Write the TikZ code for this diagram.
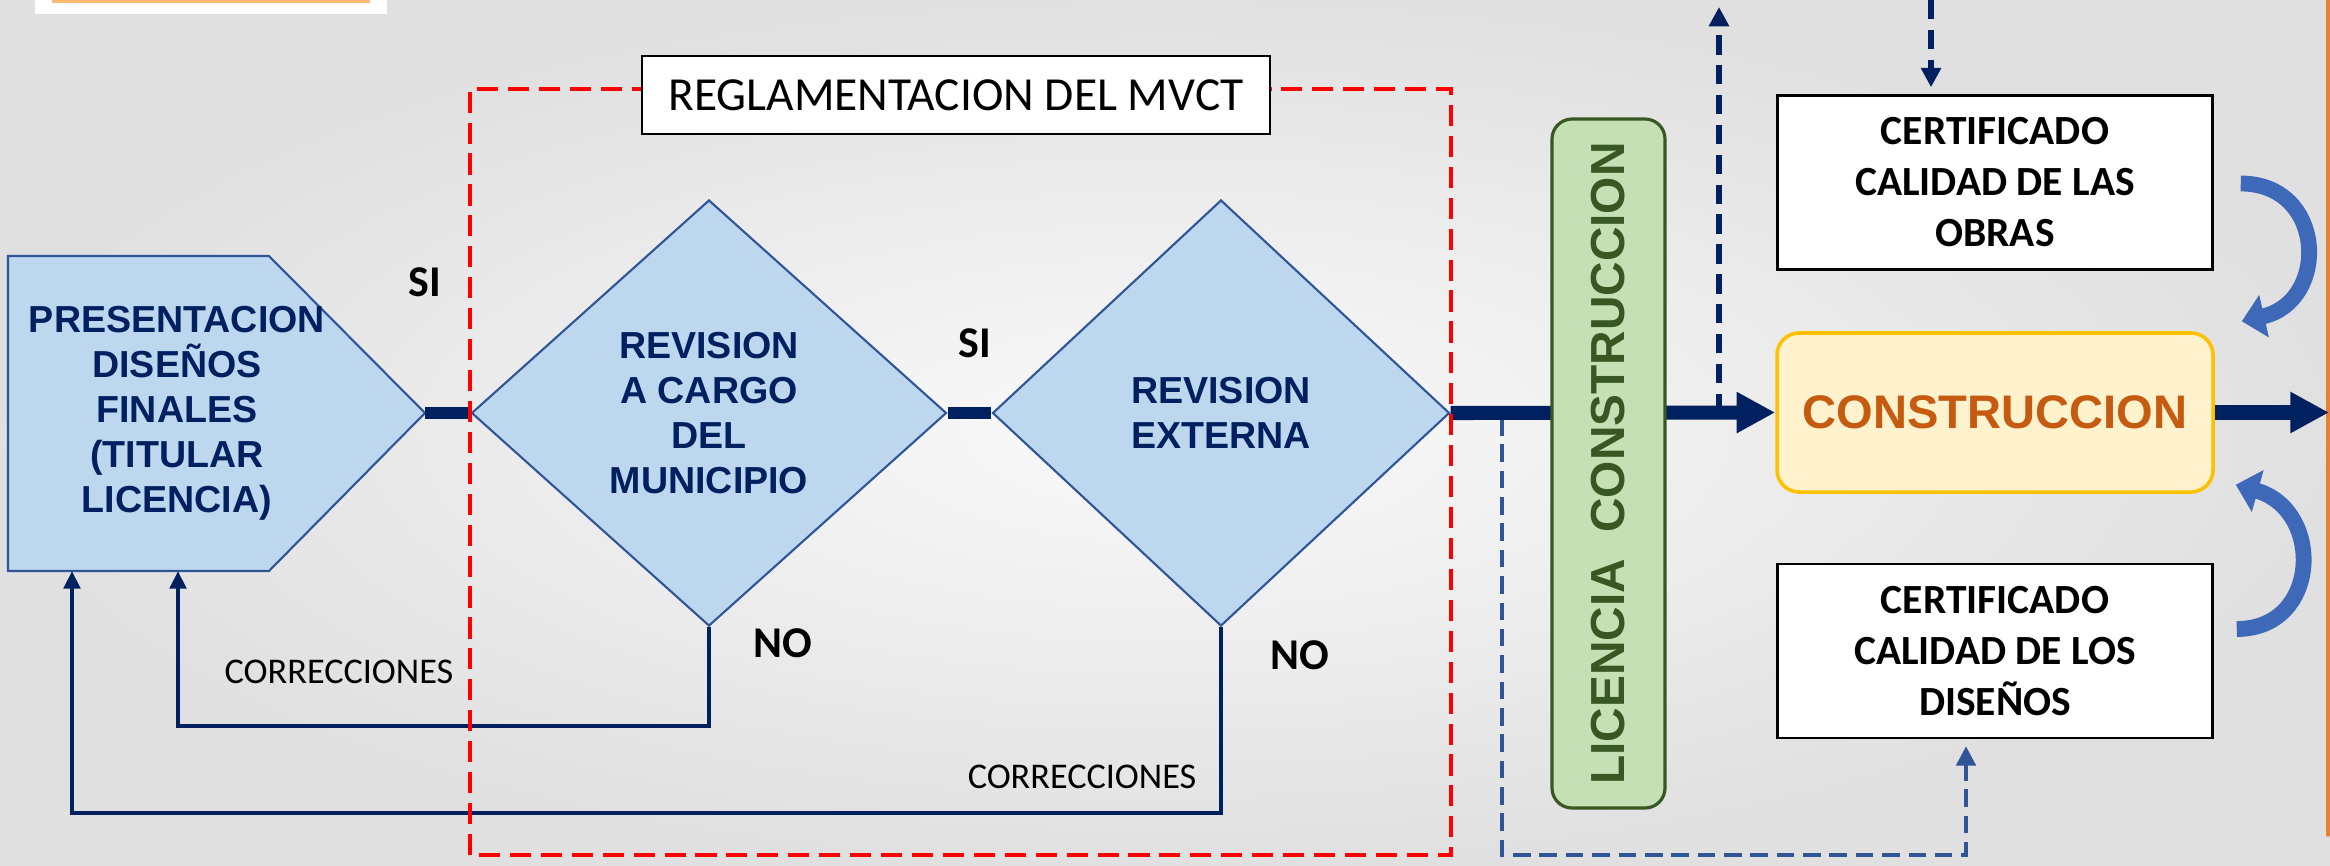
\documentclass[tikz,border=0pt]{standalone}
\usepackage{fontspec}
\setmainfont{Carlito}
\newfontfamily\arialf{Liberation Sans}
\usetikzlibrary{shapes,arrows.meta,positioning}
\definecolor{navy}{HTML}{002060}
\definecolor{diafill}{HTML}{BDD7EE}
\definecolor{diaedge}{HTML}{2F5597}
\definecolor{licfill}{HTML}{C5E0B4}
\definecolor{licedge}{HTML}{385723}
\definecolor{constrfill}{HTML}{FFF2CC}
\definecolor{constredge}{HTML}{FFC000}
\definecolor{constrtext}{HTML}{C55A11}
\definecolor{arcblue}{HTML}{3E68B8}
\definecolor{edgeorange}{HTML}{ED7D31}
\tikzstyle{flowtxt}=[font=\arialf\bfseries\fontsize{10.7}{12.8}\selectfont,
  text=navy, align=center]
\tikzstyle{dia}=[diamond, draw=diaedge, fill=diafill, line width=0.6pt,
  inner sep=0pt, aspect=1.1, minimum height=4.26cm, flowtxt]
\tikzstyle{pent}=[draw=diaedge, fill=diafill, line width=0.6pt]
\tikzstyle{certbox}=[draw=black, fill=white, line width=0.7pt,
  minimum width=4.35cm, minimum height=1.74cm, align=center,
  font=\bfseries\fontsize{11.8}{14.5}\selectfont]
\tikzstyle{constrbox}=[draw=constredge, fill=constrfill, line width=1pt,
  rounded corners=0.22cm, minimum width=4.36cm, minimum height=1.59cm,
  text=constrtext, font=\arialf\bfseries\fontsize{13.4}{16}\selectfont]
\tikzstyle{licbox}=[draw=licedge, fill=licfill, line width=0.9pt,
  rounded corners=0.2cm, rotate=90, minimum width=6.89cm,
  minimum height=1.13cm, text=licedge,
  font=\arialf\bfseries\fontsize{13.6}{16}\selectfont]
\tikzstyle{regbox}=[draw=black, fill=white, line width=0.7pt,
  minimum width=6.28cm, minimum height=0.78cm,
  font=\fontsize{13.5}{16}\selectfont]
\tikzstyle{yesno}=[font=\bfseries\fontsize{12.5}{15}\selectfont]
\tikzstyle{corr}=[font=\fontsize{10.3}{12}\selectfont]
\tikzstyle{thickjoin}=[navy, line width=3.4pt]
\tikzstyle{flow}=[navy, line width=4pt, -{Triangle[length=11pt,width=11pt]}]
\tikzstyle{back}=[navy, line width=1.4pt, -{Triangle[length=5pt,width=4.6pt]}]
\tikzstyle{dashup}=[navy, line width=1.7pt, dash pattern=on 5.5pt off 3pt,
  -{Triangle[length=5.5pt,width=5.5pt]}]
\tikzstyle{dashlow}=[diaedge, line width=1.1pt, dash pattern=on 5pt off 2.5pt,
  -{Triangle[length=5.5pt,width=5.5pt]}]
\tikzstyle{frame}=[red, line width=1.4pt, dash pattern=on 6pt off 2.8pt]
\tikzstyle{curvarr}=[arcblue, line width=4.5pt,
  -{Triangle[length=6.5pt,width=12pt]}]

\begin{document}
\begin{tikzpicture}[>=Stealth, on grid, node distance=5.12cm]
  \useasboundingbox (0,0) rectangle (23.30,8.65);
  \shade[inner color=black!2, outer color=black!12] (0,0) rectangle (23.30,8.65);
  \fill[white] (0.35,8.51) rectangle (3.87,8.65);
  \fill[orange!55] (0.52,8.62) rectangle (3.70,8.65);
  \draw[edgeorange, line width=1pt, line cap=round] (23.28,8.65) -- (23.28,0.30);

  \coordinate (presTip) at (4.25,4.52);
  \coordinate (presBot) at (0.08,2.94);
  \draw[pent] (0.08,6.09) -- (2.69,6.09) -- (presTip) -- (2.69,2.94)
    -- (presBot) -- cycle;
  \node[flowtxt] (prestxt) at (1.77,4.52)
    {PRESENTACION\\DISEÑOS\\FINALES\\(TITULAR\\LICENCIA)};
  \node[dia, minimum width=4.75cm] (rev1) at (7.09,4.52)
    {REVISION\\A CARGO\\DEL\\MUNICIPIO};
  \node[dia, minimum width=4.57cm, right=of rev1] (rev2) {REVISION\\EXTERNA};

  \node[constrbox] (constr) at (19.95,4.525) {CONSTRUCCION};
  \node[certbox, above=2.3cm of constr] (obras)
    {CERTIFICADO\\CALIDAD DE LAS\\OBRAS};
  \node[certbox, below=2.385cm of constr] (dis)
    {CERTIFICADO\\CALIDAD DE LOS\\DISEÑOS};

  \coordinate (fbA) at (1.78,1.39);
  \coordinate (fbB) at (0.72,0.52);
  \draw[back] (rev1.south) |- (fbA) -- (fbA |- presBot);
  \draw[back] (rev2.south) |- (fbB) -- (fbB |- presBot);

  \draw[thickjoin] (presTip) -- (rev1.west);
  \draw[thickjoin] (rev1.east) -- (rev2.west);

  \coordinate (lowStart) at (15.02,4.47);
  \coordinate (lowCorner) at (19.66,0.10);
  \draw[dashlow, shorten >=2pt] (lowStart) |- (lowCorner) -- (lowCorner |- dis.south);

  \draw[flow] (rev2.east) -- (constr.west);
  \coordinate (outEnd) at (23.29,4.50);
  \draw[flow] (constr.east) -- (constr.east -| outEnd);

  \coordinate (upStart) at (17.19,4.52);
  \coordinate (upEnd) at (17.19,8.58);
  \draw[dashup] (upStart) -- (upEnd);
  \coordinate (downStart) at (19.31,8.65);
  \draw[dashup, shorten >=2pt] (downStart) -- (downStart |- obras.north);

  \node[licbox] (lic) at (16.085,4.015) {LICENCIA\hspace{0.55em}CONSTRUCCION};

  \node[yesno, above=1.04cm of presTip] (si1) {SI};
  \node[yesno] (si2) at (9.75,5.22) {SI};
  \node[yesno] (no1) at (7.83,2.22) {NO};
  \node[yesno] (no2) at (13.00,2.10) {NO};
  \node[corr] (corr1) at (3.39,1.93) {CORRECCIONES};
  \node[corr] (corr2) at (10.82,0.88) {CORRECCIONES};

  \draw[frame] (4.70,0.10) rectangle (14.51,7.76);
  \node[regbox] (regl) at (9.56,7.70) {REGLAMENTACION DEL MVCT};

  \draw[curvarr] ([shift={(0.27,-0.01)}]obras.east) .. controls +(0.85,0)
    and +(0.88,0.2) .. ([shift={(0.27,0.10)}]constr.north east);
  \draw[curvarr] ([shift={(0.23,0.22)}]dis.east) .. controls +(0.84,0)
    and +(0.88,-0.25) .. ([shift={(0.21,0.09)}]constr.south east);
\end{tikzpicture}
\end{document}
